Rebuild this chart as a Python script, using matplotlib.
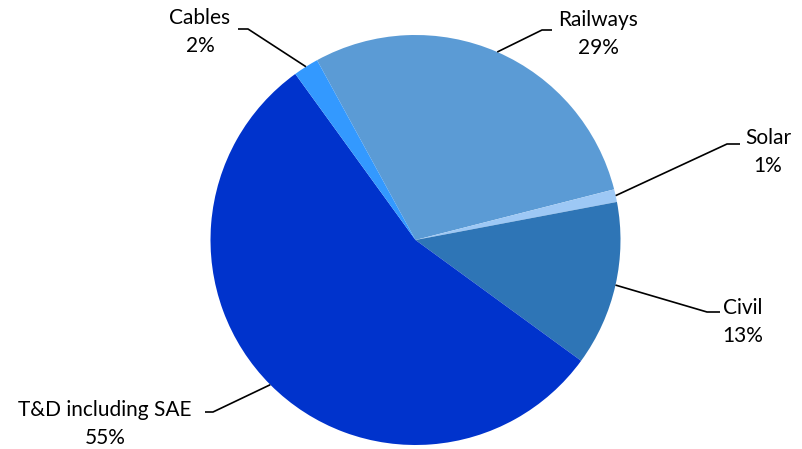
import numpy as np
import matplotlib.pyplot as plt

# segment shares (%)
labels = ["Railways", "Solar", "Civil", "T&D including SAE", "Cables"]
shares = [29, 1, 13, 55, 2]
colors = ["#5B9BD5", "#9DC8F5", "#2E75B6", "#0033CC", "#3399FF"]

W, H = 803, 449
CX, CY, R = 415.5, H - 240, 205

# elbow of each leader line and text anchor (pixel coords, y from top)
elbows = [(542, 30), (727, 144), (707, 312), (213, 412), (248, 29)]
ends = [(552, 30), (740, 144), (720, 312), (205, 412), (238, 29)]
text_pos = [(598, 34), (768, 152), (743, 322), (105, 424), (200, 32)]

fig = plt.figure(figsize=(W / 100, H / 100), dpi=100)
ax = fig.add_axes([0, 0, 1, 1])

wedges, _ = ax.pie(shares, colors=colors, startangle=118.7, counterclock=False,
                   center=(CX, CY), radius=R, frame=True)
ax.set_xlim(0, W)
ax.set_ylim(0, H)
ax.set_aspect("equal")
ax.axis("off")

for w, lab, val, elb, end, tp in zip(wedges, labels, shares, elbows, ends, text_pos):
    mid = np.deg2rad((w.theta1 + w.theta2) / 2)
    sx = CX + R * np.cos(mid)
    sy = CY + R * np.sin(mid)
    ax.plot([sx, elb[0], end[0]], [sy, H - elb[1], H - end[1]],
            color="black", lw=1.2, solid_capstyle="butt")
    ax.text(tp[0], H - tp[1], f"{lab}\n{val}%", ha="center", va="center",
            fontsize=15, family="Lato", linespacing=1.5)

fig.savefig("out.png", dpi=100)
